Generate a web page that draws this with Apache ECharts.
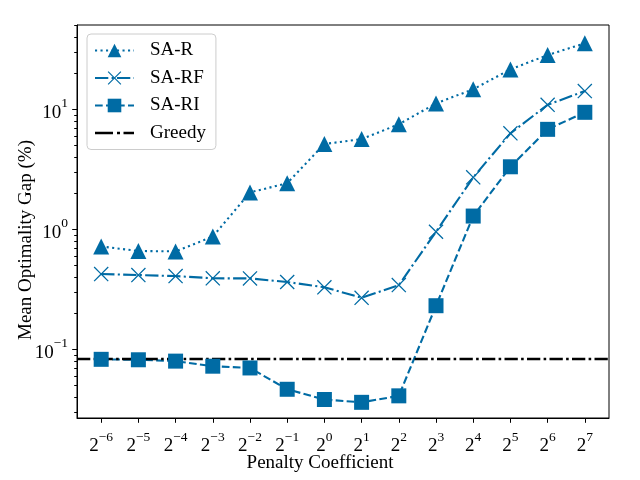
<!DOCTYPE html>
<html>
<head>
<meta charset="utf-8">
<script src="https://cdn.jsdelivr.net/npm/echarts@6/dist/echarts.min.js"></script>
<style>
  html, body { margin: 0; padding: 0; background: #fff; }
  #chart { width: 640px; height: 480px; }
</style>
</head>
<body>
<div id="chart"></div>
<script>
// x categories: penalty coefficient = 2^k
const penaltyExponents = ['\u22126', '\u22125', '\u22124', '\u22123', '\u22122', '\u22121', '0', '1', '2', '3', '4', '5', '6', '7']
// mean optimality gap (%)
const saR = [0.72, 0.66, 0.655, 0.87, 2.03, 2.42, 5.14, 5.65, 7.5, 11.2, 14.7, 21.5, 28.3, 35.5]
const saRF = [0.424, 0.416, 0.408, 0.391, 0.39, 0.364, 0.329, 0.269, 0.343, 0.955, 2.71, 6.31, 10.9, 14.2]
const saRI = [0.0826, 0.0819, 0.0798, 0.0724, 0.070, 0.0465, 0.0382, 0.0362, 0.041, 0.231, 1.29, 3.32, 6.81, 9.44]
const greedy = 0.083
// y ticks
const yMajorTicks = [0.1, 1, 10]
const yMajorLabels = ['\u22121', '0', '1']
const yMinorTicks = [0.03, 0.04, 0.05, 0.06, 0.07, 0.08, 0.09,
  0.2, 0.3, 0.4, 0.5, 0.6, 0.7, 0.8, 0.9,
  2, 3, 4, 5, 6, 7, 8, 9,
  20, 30, 40, 50]

const BLUE = '#006BA4'
const FONT = 'Liberation Serif'
const xMin = -0.65
const xMax = penaltyExponents.length - 1 + 0.65
const xTicks = penaltyExponents.map((_, i) => i)

const crossPath = 'path://M0,6L6,0L50,44L94,0L100,6L56,50L100,94L94,100L50,56L6,100L0,94L44,50Z'
const dashDotIcon = 'path://M0,0H18V2.6H0Z M22,0H25V2.6H22Z M28.5,0H39V2.6H28.5Z'

const labelRich = {
  base: { fontFamily: FONT, fontSize: 19, color: '#000', verticalAlign: 'bottom' },
  sup: { fontFamily: FONT, fontSize: 13.5, color: '#000', verticalAlign: 'bottom', padding: [0, 0, 12, 0] }
}

const toPoints = arr => arr.map((v, i) => [i, v])

const chart = echarts.init(document.getElementById('chart'))
chart.setOption({
  animation: false,
  grid: { left: 77, right: 31, top: 25, bottom: 62, show: true, borderColor: '#000', borderWidth: 1 },
  legend: {
    orient: 'vertical',
    left: 87,
    top: 34,
    data: ['SA-R', 'SA-RF', 'SA-RI', { name: 'Greedy', icon: dashDotIcon }],
    itemWidth: 39,
    itemHeight: 17,
    itemGap: 8.5,
    padding: [7, 10, 7, 7],
    backgroundColor: 'rgba(255,255,255,0.8)',
    borderColor: '#cccccc',
    borderWidth: 1,
    borderRadius: 4,
    textStyle: { fontFamily: FONT, fontSize: 19, color: '#000', padding: [0, 0, 0, 11] }
  },
  xAxis: {
    type: 'value',
    min: xMin,
    max: xMax,
    splitLine: { show: false },
    axisLine: { show: true, onZero: false, lineStyle: { color: '#000', width: 1 } },
    axisTick: { show: true, customValues: xTicks, length: 4.8, lineStyle: { color: '#000', width: 1 } },
    axisLabel: {
      customValues: xTicks,
      margin: 12,
      formatter: v => '{base|2}{sup|' + penaltyExponents[Math.round(v)] + '}',
      rich: labelRich
    }
  },
  yAxis: [{
    type: 'log',
    logBase: 10,
    min: 0.0268,
    max: 50.4,
    splitLine: { show: false },
    axisLine: { show: true, onZero: false, lineStyle: { color: '#000', width: 1 } },
    axisTick: { show: true, customValues: yMajorTicks, length: 4.8, lineStyle: { color: '#000', width: 1 } },
    axisLabel: {
      customValues: yMajorTicks,
      margin: 9,
      formatter: v => {
        const idx = yMajorTicks.findIndex(t => Math.abs(Math.log10(t) - Math.log10(v)) < 1e-6)
        return '{base|10}{sup|' + yMajorLabels[idx] + '}'
      },
      rich: labelRich
    }
  }, {
    type: 'log',
    logBase: 10,
    min: 0.0268,
    max: 50.4,
    position: 'left',
    splitLine: { show: false },
    axisLine: { show: false, onZero: false },
    axisTick: { show: true, customValues: yMinorTicks, length: 2.8, lineStyle: { color: '#000', width: 1 } },
    axisLabel: { show: false }
  }],
  graphic: [{
    type: 'text',
    x: 320,
    y: 463,
    style: { text: 'Penalty Coefficient', font: '19px "Liberation Serif"', fill: '#000', align: 'center', verticalAlign: 'middle' }
  }, {
    type: 'text',
    x: 26,
    y: 240,
    rotation: Math.PI / 2,
    style: { text: 'Mean Optimality Gap (%)', font: '19px "Liberation Serif"', fill: '#000', align: 'center', verticalAlign: 'middle' }
  }],
  series: [{
    name: 'SA-R',
    type: 'line',
    data: toPoints(saR),
    symbol: 'triangle',
    symbolSize: 16,
    itemStyle: { color: BLUE },
    lineStyle: { color: BLUE, width: 2.1, type: [2.1, 3.4] },
    emphasis: { disabled: true }
  }, {
    name: 'SA-RF',
    type: 'line',
    data: toPoints(saRF),
    symbol: crossPath,
    symbolSize: 15,
    itemStyle: { color: BLUE },
    lineStyle: { color: BLUE, width: 2.1, type: [13.3, 3.3, 2.1, 3.3] },
    emphasis: { disabled: true }
  }, {
    name: 'SA-RI',
    type: 'line',
    data: toPoints(saRI),
    symbol: 'rect',
    symbolSize: 15,
    itemStyle: { color: BLUE },
    lineStyle: { color: BLUE, width: 2.1, type: [7.7, 3.3] },
    emphasis: { disabled: true }
  }, {
    name: 'Greedy',
    type: 'line',
    data: [[xMin, greedy], [xMax, greedy]],
    showSymbol: false,
    symbol: 'none',
    itemStyle: { color: '#000' },
    lineStyle: { color: '#000', width: 2.6, type: [13.3, 3.3, 2.6, 3.3] },
    emphasis: { disabled: true }
  }]
})
</script>
</body>
</html>
